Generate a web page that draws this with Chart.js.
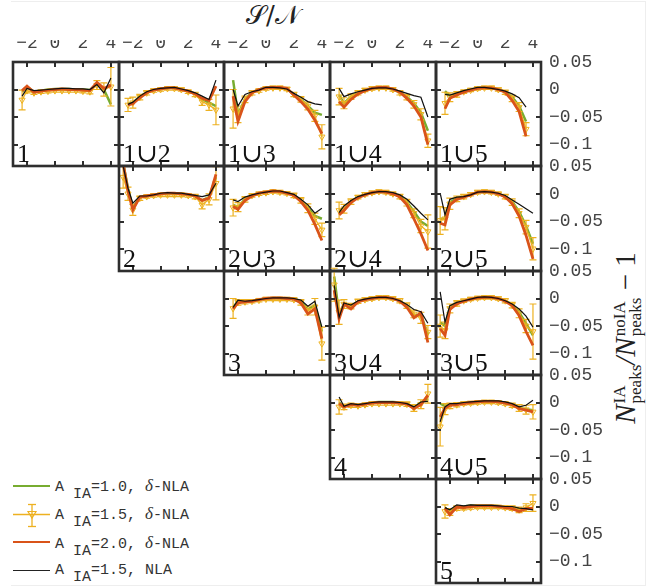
<!DOCTYPE html>
<html>
<head>
<meta charset="utf-8">
<script src="https://cdn.jsdelivr.net/npm/chart.js@4.4.0/dist/chart.umd.min.js"></script>
<style>
body { margin: 0; background: #fff; width: 658px; height: 586px; position: relative; overflow: hidden; color: #333; }
canvas { position: absolute; }
#frame { position: absolute; left: 11px; top: 1px; width: 634px; height: 583px; border: 1px solid #eeeeee; border-left: none; }
.plabel { position: absolute; font-family: 'Liberation Serif', 'DejaVu Serif', serif; font-size: 26px; line-height: 26px; color: #111; white-space: nowrap; }
#sn { position: absolute; left: 273px; top: 15px; transform: translate(-50%, -50%); font-family: 'DejaVu Serif', serif; font-size: 26px; color: #222; white-space: nowrap; }
#ytitle { position: absolute; left: 627px; top: 338px; transform: translate(-50%, -50%) rotate(-90deg); font-family: 'Liberation Serif', 'DejaVu Serif', serif; font-size: 29px; color: #222; white-space: nowrap; line-height: 1; }
#ytitle .ss { display: inline-flex; flex-direction: column; font-size: 17px; line-height: 16px; vertical-align: 10px; margin-left: 1px; }
.leg { position: absolute; left: 13px; width: 37px; }
.legtxt { position: absolute; left: 55px; font-family: 'Liberation Mono', monospace; font-size: 15px; line-height: 15px; color: #333; white-space: nowrap; }
.legtxt sub { font-size: 15px; vertical-align: -7px; line-height: 0; }
.legtxt i { font-family: 'Liberation Serif', serif; font-size: 17px; }
</style>
</head>
<body>
<div id="frame"></div>
<div id="sn">𝒮/𝒩</div>
<div id="ytitle"><i>N</i><span class="ss"><span>IA</span><span>peaks</span></span><i>/N</i><span class="ss"><span>noIA</span><span>peaks</span></span> − 1</div>

<div class="leg" style="top:484.5px;height:2.5px;background:#77AC30"></div>
<div class="legtxt" style="top:477.5px">A <sub>IA</sub>=1.0, <i>δ</i>-NLA</div>
<svg style="position:absolute;left:13px;top:503px" width="38" height="26">
  <line x1="0" y1="11.5" x2="37" y2="11.5" stroke="#EDB120" stroke-width="1.3"/>
  <line x1="19" y1="1.5" x2="19" y2="23.5" stroke="#EDB120" stroke-width="1.3"/>
  <line x1="15" y1="1.5" x2="23" y2="1.5" stroke="#EDB120" stroke-width="1.3"/>
  <line x1="15" y1="23.5" x2="23" y2="23.5" stroke="#EDB120" stroke-width="1.3"/>
  <polygon points="15,8.5 23,8.5 19,15" fill="none" stroke="#EDB120" stroke-width="1.2"/>
</svg>
<div class="legtxt" style="top:506px">A <sub>IA</sub>=1.5, <i>δ</i>-NLA</div>
<div class="leg" style="top:540.5px;height:2.8px;background:#D95319"></div>
<div class="legtxt" style="top:534.5px">A <sub>IA</sub>=2.0, <i>δ</i>-NLA</div>
<div class="leg" style="top:569.5px;height:1.2px;background:#222"></div>
<div class="legtxt" style="top:563px">A <sub>IA</sub>=1.5, NLA</div>

<script>
// S/N bin centres shared by every panel
const sn = [-2.7, -2.35, -2, -1.5, -1, -0.5, 0, 0.5, 1, 1.5, 2, 2.5, 3, 3.5, 4];
const xTicks = [-2, 0, 2, 4];
const yTicks = [0.05, 0, -0.05, -0.1];

// a10 = A_IA 1.0 d-NLA (green), a15 = A_IA 1.5 d-NLA (orange, with err), a20 = A_IA 2.0 d-NLA (red), nla = A_IA 1.5 NLA (black)
const a10_1 = [null, -0.004, 0.005, -0.004, -0.002, 0, 0.001, 0.001, 0.001, 0, 0, -0.001, 0.01, 0.0, -0.027];
const a15_1 = [null, -0.019, -0.002, -0.006, -0.004, -0.003, -0.002, -0.002, -0.002, -0.002, -0.003, -0.004, 0.008, 0.0, 0.005];
const err_1 = [null, 0.018, 0.004, 0.003, 0.003, 0.003, 0.003, 0.003, 0.003, 0.003, 0.003, 0.004, 0.008, 0.012, 0.035];
const a20_1 = [null, -0.002, 0.006, -0.005, -0.003, -0.001, 0, 0.001, 0, 0, -0.001, -0.002, 0.013, 0.002, 0.008];
const nla_1 = [null, -0.012, 0.002, -0.002, -0.001, 0, 0.001, 0.002, 0.002, 0.001, 0.001, 0, 0.009, -0.006, 0.021];

const a10_1u2 = [null, -0.026, -0.024, -0.013, -0.005, -0.001, 0.001, 0.003, 0.003, 0.0, -0.003, -0.008, -0.018, -0.024, -0.03];
const a15_1u2 = [null, -0.028, -0.024, -0.014, -0.006, -0.002, 0.0, 0.002, 0.002, 0.0, -0.004, -0.009, -0.022, -0.028, -0.037];
const err_1u2 = [null, 0.012, 0.01, 0.005, 0.004, 0.003, 0.003, 0.003, 0.003, 0.003, 0.003, 0.004, 0.007, 0.01, 0.027];
const a20_1u2 = [null, -0.028, -0.026, -0.015, -0.006, -0.001, 0.001, 0.003, 0.003, 0.0, -0.003, -0.008, -0.016, -0.02, 0.006];
const nla_1u2 = [null, -0.027, -0.023, -0.012, -0.004, 0, 0.002, 0.003, 0.004, 0.001, -0.002, -0.006, -0.012, -0.018, 0.017];

const a10_1u3 = [null, 0.017, -0.045, -0.018, -0.005, 0, 0.003, 0.004, 0.003, 0.001, -0.009, -0.018, -0.03, -0.042, -0.046];
const a15_1u3 = [null, -0.035, -0.045, -0.018, -0.006, -0.002, 0.002, 0.003, 0.003, 0.001, -0.009, -0.018, -0.03, -0.048, -0.086];
const err_1u3 = [null, 0.035, 0.015, 0.006, 0.004, 0.003, 0.003, 0.003, 0.003, 0.003, 0.004, 0.005, 0.007, 0.01, 0.022];
const a20_1u3 = [null, -0.012, -0.058, -0.022, -0.006, 0, 0.003, 0.004, 0.004, 0.002, -0.01, -0.022, -0.036, -0.056, -0.08];
const nla_1u3 = [null, 0.0, -0.03, -0.009, -0.004, -0.001, 0.004, 0.004, 0.003, 0.001, -0.007, -0.014, -0.022, -0.026, -0.028];

const a10_1u4 = [null, -0.01, -0.025, -0.013, -0.006, -0.001, 0.002, 0.003, 0.003, 0.0, -0.005, -0.013, -0.025, -0.042, -0.075];
const a15_1u4 = [null, -0.013, -0.025, -0.013, -0.006, -0.001, 0.002, 0.003, 0.003, 0.0, -0.006, -0.014, -0.027, -0.045, -0.093];
const err_1u4 = [null, 0.015, 0.01, 0.005, 0.004, 0.003, 0.003, 0.003, 0.003, 0.003, 0.004, 0.005, 0.007, 0.01, 0.012];
const a20_1u4 = [null, -0.022, -0.032, -0.018, -0.008, -0.002, 0.002, 0.004, 0.004, 0.001, -0.005, -0.016, -0.03, -0.05, -0.1];
const nla_1u4 = [null, 0.002, -0.013, -0.008, -0.004, -0.001, 0.002, 0.003, 0.003, 0.001, -0.003, -0.007, -0.011, -0.014, -0.05];

const a10_1u5 = [null, -0.003, -0.012, -0.008, -0.003, 0, 0.002, 0.003, 0.003, 0, -0.004, -0.014, -0.03, -0.058, null];
const a15_1u5 = [null, -0.025, -0.014, -0.009, -0.004, -0.001, 0.002, 0.003, 0.003, 0, -0.005, -0.016, -0.032, -0.072, null];
const err_1u5 = [null, 0.02, 0.008, 0.005, 0.003, 0.003, 0.003, 0.003, 0.003, 0.003, 0.004, 0.006, 0.008, 0.012, null];
const a20_1u5 = [null, -0.035, -0.016, -0.01, -0.005, -0.001, 0.002, 0.003, 0.003, 0.0, -0.005, -0.02, -0.04, -0.085, null];
const nla_1u5 = [null, -0.009, -0.01, -0.006, -0.002, 0.001, 0.004, 0.004, 0.002, 0, -0.003, -0.008, -0.015, -0.032, null];

const a10_2 = [0.055, 0.01, -0.025, -0.006, -0.004, -0.002, 0.0, 0.001, 0.001, 0.0, -0.001, -0.004, -0.012, -0.006, 0.03];
const a15_2 = [0.03, 0.0, -0.029, -0.008, -0.005, -0.003, -0.002, -0.002, -0.002, -0.002, -0.003, -0.005, -0.02, -0.01, 0.019];
const err_2 = [0.02, 0.012, 0.01, 0.004, 0.003, 0.003, 0.003, 0.003, 0.003, 0.003, 0.003, 0.004, 0.007, 0.01, 0.03];
const a20_2 = [0.055, 0.005, -0.029, -0.006, -0.004, -0.002, 0.0, 0.001, 0.001, 0.0, -0.001, -0.004, -0.012, -0.008, 0.035];
const nla_2 = [0.05, 0.01, -0.017, -0.004, -0.004, -0.002, 0.001, 0.002, 0.001, 0.001, -0.001, -0.003, -0.005, -0.002, 0.019];

const a10_2u3 = [null, -0.02, -0.024, -0.01, -0.003, 0.001, 0.003, 0.005, 0.004, 0.001, -0.002, -0.012, -0.025, -0.04, -0.045];
const a15_2u3 = [null, -0.025, -0.024, -0.01, -0.003, 0, 0.002, 0.004, 0.003, 0.001, -0.003, -0.012, -0.026, -0.045, -0.065];
const err_2u3 = [null, 0.015, 0.008, 0.005, 0.003, 0.003, 0.003, 0.003, 0.003, 0.003, 0.004, 0.005, 0.008, 0.01, 0.012];
const a20_2u3 = [null, -0.023, -0.028, -0.012, -0.004, 0.001, 0.003, 0.005, 0.004, 0.001, -0.003, -0.014, -0.03, -0.055, -0.084];
const nla_2u3 = [null, -0.011, -0.014, -0.006, -0.002, 0.001, 0.003, 0.005, 0.005, 0.002, -0.001, -0.01, -0.02, -0.035, -0.026];

const a10_2u4 = [null, -0.03, -0.027, -0.014, -0.006, -0.001, 0.002, 0.004, 0.003, 0.0, -0.004, -0.015, -0.032, -0.05, -0.058];
const a15_2u4 = [null, -0.03, -0.027, -0.014, -0.006, -0.001, 0.002, 0.004, 0.003, 0.0, -0.005, -0.016, -0.035, -0.058, -0.068];
const err_2u4 = [null, 0.015, 0.008, 0.005, 0.003, 0.003, 0.003, 0.003, 0.003, 0.003, 0.004, 0.006, 0.008, 0.012, 0.03];
const a20_2u4 = [null, -0.038, -0.03, -0.016, -0.007, -0.002, 0.002, 0.004, 0.003, 0.0, -0.006, -0.02, -0.045, -0.072, -0.102];
const nla_2u4 = [null, -0.034, -0.022, -0.012, -0.005, -0.001, 0.002, 0.004, 0.004, 0.002, -0.002, -0.01, -0.022, -0.035, -0.047];

const a10_2u5 = [-0.045, -0.045, -0.016, -0.008, -0.005, -0.001, 0.003, 0.004, 0.003, 0.0, -0.005, -0.014, -0.032, -0.058, -0.09];
const a15_2u5 = [-0.048, -0.045, -0.018, -0.009, -0.005, -0.001, 0.003, 0.004, 0.003, 0.0, -0.005, -0.015, -0.035, -0.06, -0.099];
const err_2u5 = [0.025, 0.02, 0.01, 0.005, 0.004, 0.003, 0.003, 0.003, 0.003, 0.003, 0.004, 0.006, 0.008, 0.012, 0.02];
const a20_2u5 = [-0.053, -0.056, -0.02, -0.01, -0.006, -0.002, 0.003, 0.004, 0.003, 0.0, -0.006, -0.018, -0.04, -0.075, -0.117];
const nla_2u5 = [0.001, -0.038, -0.01, -0.006, -0.005, -0.002, 0.003, 0.004, 0.003, 0.001, -0.003, -0.011, -0.019, -0.027, -0.035];

const a10_3 = [null, -0.016, -0.005, -0.005, -0.004, -0.002, 0.0, 0.001, 0.001, 0.0, 0.0, -0.005, -0.02, -0.012, -0.06];
const a15_3 = [null, -0.018, -0.007, -0.006, -0.005, -0.003, -0.001, -0.001, -0.001, -0.001, -0.002, -0.007, -0.022, -0.015, -0.082];
const err_3 = [null, 0.018, 0.005, 0.004, 0.003, 0.003, 0.003, 0.003, 0.003, 0.003, 0.003, 0.005, 0.008, 0.015, 0.03];
const a20_3 = [null, -0.019, -0.008, -0.006, -0.005, -0.002, 0.0, 0.001, 0.001, 0.0, -0.001, -0.008, -0.028, -0.019, -0.073];
const nla_3 = [null, -0.016, -0.003, -0.005, -0.004, -0.002, 0.0, 0.001, 0.001, 0.001, 0.0, -0.003, -0.014, -0.005, -0.052];

const a10_3u4 = [0.04, -0.03, -0.009, -0.015, -0.005, -0.001, 0.001, 0.002, 0.002, 0.0, -0.004, -0.014, -0.03, -0.03, -0.065];
const a15_3u4 = [0.025, -0.025, -0.01, -0.014, -0.005, -0.002, 0.0, 0.002, 0.002, 0.0, -0.004, -0.013, -0.028, -0.035, -0.061];
const err_3u4 = [0.03, 0.022, 0.008, 0.005, 0.004, 0.003, 0.003, 0.003, 0.003, 0.003, 0.004, 0.005, 0.007, 0.01, 0.012];
const a20_3u4 = [0.015, -0.037, -0.01, -0.019, -0.006, -0.002, 0.0, 0.002, 0.002, 0.0, -0.005, -0.016, -0.035, -0.026, -0.08];
const nla_3u4 = [0.024, -0.034, -0.008, -0.012, -0.004, -0.001, 0.001, 0.002, 0.002, 0.0, -0.004, -0.011, -0.02, -0.024, -0.045];

const a10_3u5 = [-0.043, -0.05, -0.016, -0.008, -0.004, -0.001, 0.002, 0.002, 0.002, 0.0, -0.004, -0.011, -0.025, -0.045, -0.067];
const a15_3u5 = [-0.05, -0.058, -0.018, -0.009, -0.004, -0.001, 0.001, 0.002, 0.002, 0.0, -0.004, -0.012, -0.027, -0.05, -0.06];
const err_3u5 = [0.02, 0.015, 0.008, 0.005, 0.003, 0.003, 0.003, 0.003, 0.003, 0.003, 0.004, 0.005, 0.008, 0.012, 0.05];
const a20_3u5 = [-0.055, -0.067, -0.02, -0.01, -0.005, -0.001, 0.001, 0.002, 0.002, 0.0, -0.005, -0.013, -0.031, -0.06, -0.085];
const nla_3u5 = [0.012, -0.043, -0.013, -0.007, -0.004, -0.001, 0.002, 0.003, 0.002, 0.0, -0.004, -0.01, -0.019, -0.032, -0.052];

const a10_4 = [null, 0.0, -0.007, -0.003, -0.004, -0.002, 0.0, 0.001, 0.001, 0.001, 0.0, -0.002, -0.009, 0.0, 0.007];
const a15_4 = [null, -0.008, -0.008, -0.005, -0.006, -0.004, -0.002, -0.002, -0.002, -0.002, -0.002, -0.003, -0.01, -0.003, 0.016];
const err_4 = [null, 0.013, 0.005, 0.004, 0.003, 0.003, 0.003, 0.003, 0.003, 0.003, 0.003, 0.004, 0.006, 0.008, 0.017];
const a20_4 = [null, -0.002, -0.008, -0.004, -0.005, -0.003, -0.001, 0.0, 0.0, 0.0, -0.001, -0.003, -0.011, -0.004, 0.013];
const nla_4 = [null, 0.01, -0.007, -0.002, -0.004, -0.002, 0.0, 0.001, 0.001, 0.001, 0.0, -0.002, -0.008, 0.001, 0.002];

const a10_4u5 = [-0.002, -0.006, -0.004, -0.003, -0.001, 0.0, 0.001, 0.002, 0.002, 0.001, -0.001, -0.004, -0.01, -0.012, -0.014];
const a15_4u5 = [-0.044, -0.012, -0.006, -0.004, -0.002, -0.001, 0.0, 0.001, 0.001, 0.0, -0.002, -0.005, -0.01, -0.013, -0.017];
const err_4u5 = [0.035, 0.01, 0.005, 0.004, 0.003, 0.003, 0.003, 0.003, 0.003, 0.003, 0.003, 0.004, 0.006, 0.008, 0.013];
const a20_4u5 = [-0.026, -0.01, -0.005, -0.004, -0.002, 0.0, 0.001, 0.002, 0.002, 0.001, -0.001, -0.004, -0.011, -0.014, -0.017];
const nla_4u5 = [-0.035, -0.008, -0.002, -0.002, 0.0, 0.001, 0.002, 0.003, 0.003, 0.003, 0.001, -0.002, -0.008, -0.005, 0.004];

const a10_5 = [null, -0.002, -0.01, 0.0, 0.0, 0.002, 0.002, 0.002, 0.002, 0.001, -0.001, -0.002, -0.006, -0.004, -0.004];
const a15_5 = [null, -0.009, -0.01, -0.003, -0.003, -0.002, -0.001, -0.001, -0.001, -0.001, -0.002, -0.003, -0.006, -0.002, 0.006];
const err_5 = [null, 0.012, 0.006, 0.004, 0.003, 0.003, 0.003, 0.003, 0.003, 0.003, 0.003, 0.004, 0.005, 0.007, 0.015];
const a20_5 = [null, -0.003, -0.015, -0.001, -0.002, 0.0, 0.001, 0.001, 0.001, 0.0, -0.002, -0.004, -0.009, -0.004, -0.003];
const nla_5 = [null, -0.002, -0.006, 0.003, 0.001, 0.003, 0.002, 0.002, 0.002, 0.001, 0.0, 0.0, -0.003, -0.004, -0.006];

const panels = [
  { row: 0, col: 0, name: '1', a10: a10_1, a15: a15_1, err: err_1, a20: a20_1, nla: nla_1 },
  { row: 0, col: 1, name: '1∪2', a10: a10_1u2, a15: a15_1u2, err: err_1u2, a20: a20_1u2, nla: nla_1u2 },
  { row: 0, col: 2, name: '1∪3', a10: a10_1u3, a15: a15_1u3, err: err_1u3, a20: a20_1u3, nla: nla_1u3 },
  { row: 0, col: 3, name: '1∪4', a10: a10_1u4, a15: a15_1u4, err: err_1u4, a20: a20_1u4, nla: nla_1u4 },
  { row: 0, col: 4, name: '1∪5', a10: a10_1u5, a15: a15_1u5, err: err_1u5, a20: a20_1u5, nla: nla_1u5 },
  { row: 1, col: 1, name: '2', a10: a10_2, a15: a15_2, err: err_2, a20: a20_2, nla: nla_2 },
  { row: 1, col: 2, name: '2∪3', a10: a10_2u3, a15: a15_2u3, err: err_2u3, a20: a20_2u3, nla: nla_2u3 },
  { row: 1, col: 3, name: '2∪4', a10: a10_2u4, a15: a15_2u4, err: err_2u4, a20: a20_2u4, nla: nla_2u4 },
  { row: 1, col: 4, name: '2∪5', a10: a10_2u5, a15: a15_2u5, err: err_2u5, a20: a20_2u5, nla: nla_2u5 },
  { row: 2, col: 2, name: '3', a10: a10_3, a15: a15_3, err: err_3, a20: a20_3, nla: nla_3 },
  { row: 2, col: 3, name: '3∪4', a10: a10_3u4, a15: a15_3u4, err: err_3u4, a20: a20_3u4, nla: nla_3u4 },
  { row: 2, col: 4, name: '3∪5', a10: a10_3u5, a15: a15_3u5, err: err_3u5, a20: a20_3u5, nla: nla_3u5 },
  { row: 3, col: 3, name: '4', a10: a10_4, a15: a15_4, err: err_4, a20: a20_4, nla: nla_4 },
  { row: 3, col: 4, name: '4∪5', a10: a10_4u5, a15: a15_4u5, err: err_4u5, a20: a20_4u5, nla: nla_4u5 },
  { row: 4, col: 4, name: '5', a10: a10_5, a15: a15_5, err: err_5, a20: a20_5, nla: nla_5 }
];

// grid geometry
const colEdges = [13, 119, 224, 330, 436, 541];
const rowEdges = [62, 166, 271, 375, 479, 583];
const PAD = 22, TOPAX = 22, RIGHTAX = 75, TICK = 5;

const fmt = v => String(v).replace('-', '\u2212');
const pts = arr => sn.map((x, i) => ({ x: x, y: arr[i] }));

// box + inward tick marks on all four sides
const frame = {
  id: 'frame',
  afterDraw(chart) {
    const { ctx, chartArea: a, scales: { x, y } } = chart;
    ctx.save();
    ctx.strokeStyle = '#2e2e2e';
    ctx.lineWidth = 2;
    ctx.beginPath();
    xTicks.forEach(v => {
      const px = Math.round(x.getPixelForValue(v));
      ctx.moveTo(px, a.top); ctx.lineTo(px, a.top + TICK);
      ctx.moveTo(px, a.bottom); ctx.lineTo(px, a.bottom - TICK);
    });
    yTicks.forEach(v => {
      const py = Math.round(y.getPixelForValue(v));
      ctx.moveTo(a.left, py); ctx.lineTo(a.left + TICK, py);
      ctx.moveTo(a.right, py); ctx.lineTo(a.right - TICK, py);
    });
    ctx.stroke();
    ctx.lineWidth = 2.6;
    ctx.strokeRect(a.left, a.top, a.right - a.left, a.bottom - a.top);
    ctx.restore();
  }
};

const errorBars = {
  id: 'errorBars',
  afterDatasetDraw(chart, args) {
    const ds = chart.data.datasets[args.index];
    if (!ds.errors) return;
    const { ctx, chartArea: a, scales: { y } } = chart;
    ctx.save();
    ctx.beginPath();
    ctx.rect(a.left, a.top - 6, a.right - a.left, a.bottom - a.top + 6);
    ctx.clip();
    ctx.strokeStyle = ds.borderColor;
    ctx.lineWidth = 1.2;
    ctx.beginPath();
    args.meta.data.forEach((pt, i) => {
      const v = ds.data[i].y, e = ds.errors[i];
      if (v == null || e == null) return;
      const top = y.getPixelForValue(v + e), bot = y.getPixelForValue(v - e);
      ctx.moveTo(pt.x, top); ctx.lineTo(pt.x, bot);
      ctx.moveTo(pt.x - 3.5, top); ctx.lineTo(pt.x + 3.5, top);
      ctx.moveTo(pt.x - 3.5, bot); ctx.lineTo(pt.x + 3.5, bot);
    });
    ctx.stroke();
    ctx.restore();
  }
};

panels.forEach(p => {
  const top0 = p.row === 0, right = p.col === 4;
  const pw = colEdges[p.col + 1] - colEdges[p.col];
  const ph = rowEdges[p.row + 1] - rowEdges[p.row];
  const cv = document.createElement('canvas');
  const w = pw + 2 * PAD + (right ? RIGHTAX : 0);
  const h = ph + 2 * PAD + (top0 ? TOPAX : 0);
  cv.width = w; cv.height = h;
  cv.style.left = (colEdges[p.col] - PAD) + 'px';
  cv.style.top = (rowEdges[p.row] - PAD - (top0 ? TOPAX : 0)) + 'px';
  document.body.appendChild(cv);

  const lbl = document.createElement('div');
  lbl.className = 'plabel';
  lbl.textContent = p.name;
  lbl.style.left = (colEdges[p.col] + 4) + 'px';
  lbl.style.top = (rowEdges[p.row + 1] - 3 - 22) + 'px';
  document.body.appendChild(lbl);

  new Chart(cv, {
    type: 'line',
    data: {
      datasets: [
        { data: pts(p.nla), borderColor: '#111', borderWidth: 1.2, pointRadius: 0, order: 1 },
        { data: pts(p.a20), borderColor: '#D95319', borderWidth: 2.8, pointRadius: 0, order: 2 },
        { data: pts(p.a15), errors: p.err, borderColor: '#EDB120', borderWidth: 1.3, order: 3,
          pointStyle: 'triangle', rotation: 180, pointRadius: 3.5, pointBorderWidth: 1,
          pointBorderColor: '#EDB120', pointBackgroundColor: 'rgba(255,255,255,0)' },
        { data: pts(p.a10), borderColor: '#77AC30', borderWidth: 2.5, pointRadius: 0, order: 4 }
      ]
    },
    options: {
      responsive: false,
      animation: false,
      devicePixelRatio: 1,
      layout: { padding: PAD },
      clip: 0,
      plugins: { legend: { display: false }, tooltip: { enabled: false } },
      elements: { line: { tension: 0 } },
      scales: {
        x: {
          type: 'linear', position: 'top', min: -3, max: 4.58, display: top0,
          grid: { display: false, drawTicks: false }, border: { display: false },
          afterBuildTicks: s => { s.ticks = xTicks.map(v => ({ value: v })); },
          afterFit: s => { s.height = top0 ? TOPAX : 0; },
          ticks: { font: { family: 'Liberation Mono', size: 18 }, color: '#444', padding: 8, maxRotation: 0, autoSkip: false, callback: fmt }
        },
        y: {
          type: 'linear', position: 'right', min: -0.139, max: 0.05, display: right,
          grid: { display: false, drawTicks: false }, border: { display: false },
          afterBuildTicks: s => { s.ticks = yTicks.map(v => ({ value: v })); },
          afterFit: s => { s.width = right ? RIGHTAX : 0; },
          ticks: { font: { family: 'Liberation Mono', size: 18 }, color: '#444', padding: 8, autoSkip: false, callback: fmt }
        }
      }
    },
    plugins: [frame, errorBars]
  });
});
</script>
</body>
</html>
